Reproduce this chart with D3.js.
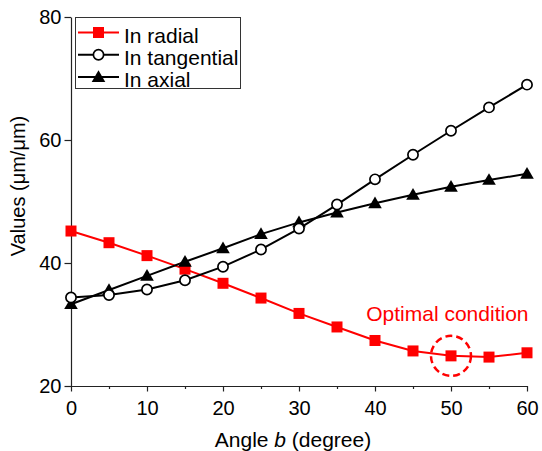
<!DOCTYPE html>
<html>
<head>
<meta charset="utf-8">
<script src="https://cdn.jsdelivr.net/npm/d3@7"></script>
<style>
body{margin:0;background:#fff;}
text{font-family:"Liberation Sans",Arial,sans-serif;}
</style>
</head>
<body>
<svg id="chart" width="542" height="451"></svg>
<script>
const angles = [0,5,10,15,20,25,30,35,40,45,50,55,60];
const radial = [45.2,43.3,41.2,39.0,36.7,34.3,31.8,29.6,27.4,25.7,24.9,24.7,25.4];
const tangential = [34.4,34.8,35.7,37.2,39.4,42.2,45.6,49.5,53.6,57.6,61.5,65.3,69.0];
const axial = [33.3,35.6,37.9,40.2,42.4,44.7,46.6,48.2,49.7,51.1,52.4,53.5,54.5];
const xTicks = [0,10,20,30,40,50,60];
const xMinorTicks = [5,15,25,35,45,55];
const yTicks = [20,40,60,80];
const seriesNames = ["In radial","In tangential","In axial"];
const optimal = {angle:50, value:24.9, label:"Optimal condition"};

const svg = d3.select("#chart");
const x = d3.scaleLinear().domain([0,60]).range([71,527]);
const y = d3.scaleLinear().domain([20,80]).range([386,17]);
const axisColor = "#222";
const FF = "Liberation Sans, Arial, sans-serif";

// x axis
const gx = svg.append("g").attr("transform","translate(0,386)");
gx.call(d3.axisBottom(x).tickValues(xMinorTicks).tickSize(3).tickFormat(""));
gx.call(g=>g.select(".domain").remove());
const gx2 = svg.append("g").attr("transform","translate(0,386)");
gx2.call(d3.axisBottom(x).tickValues(xTicks).tickSize(5.5).tickPadding(9).tickSizeOuter(0));
[gx,gx2].forEach(g=>{
  g.selectAll("line").attr("stroke",axisColor).attr("stroke-width",1.2);
  g.selectAll(".domain").attr("stroke",axisColor).attr("stroke-width",1.2);
  g.selectAll("text").attr("font-size",20).attr("fill","#000").attr("font-family",FF);
});

// y axis
const gy = svg.append("g").attr("transform","translate(71,0)");
gy.call(d3.axisLeft(y).tickValues(yTicks).tickSize(6.5).tickPadding(3).tickSizeOuter(0));
gy.selectAll("line").attr("stroke",axisColor).attr("stroke-width",1.2);
gy.select(".domain").attr("stroke",axisColor).attr("stroke-width",1.2);
gy.selectAll("text").attr("font-size",20).attr("fill","#000").attr("font-family",FF);

// axis titles
svg.append("text").attr("transform","translate(25,186) rotate(-90)")
  .attr("text-anchor","middle").attr("font-size",20).text("Values (μm/μm)");
const xt = svg.append("text").attr("x",293).attr("y",447).attr("text-anchor","middle").attr("font-size",21);
xt.append("tspan").text("Angle ");
xt.append("tspan").attr("font-style","italic").text("b");
xt.append("tspan").text(" (degree)");

const line = d3.line().x((d,i)=>x(angles[i])).y(d=>y(d));

const series = [
  {name:seriesNames[0], data:radial, color:"#ff0000", marker:"square"},
  {name:seriesNames[1], data:tangential, color:"#000", marker:"circle"},
  {name:seriesNames[2], data:axial, color:"#000", marker:"triangle"}
];

function drawMarker(g, type, cx, cy, color){
  if(type==="square"){
    g.append("rect").attr("x",cx-5.5).attr("y",cy-5.5).attr("width",11).attr("height",11).attr("fill",color);
  } else if(type==="circle"){
    g.append("circle").attr("cx",cx).attr("cy",cy).attr("r",5.1).attr("fill","#fff").attr("stroke","#000").attr("stroke-width",1.7);
  } else {
    const s=6.8;
    g.append("path").attr("d",`M${cx},${cy-s}L${cx+s},${cy+s*0.72}L${cx-s},${cy+s*0.72}Z`).attr("fill","#000");
  }
}

[series[0],series[2],series[1]].forEach(s=>{
  svg.append("path").datum(s.data).attr("d",line).attr("fill","none")
    .attr("stroke",s.color).attr("stroke-width",2);
});
[series[0],series[2],series[1]].forEach(s=>{
  const g = svg.append("g");
  s.data.forEach((v,i)=>drawMarker(g,s.marker,x(angles[i]),y(v),s.color));
});

// optimal annotation
svg.append("circle").attr("cx",x(optimal.angle)).attr("cy",y(optimal.value)).attr("r",20)
  .attr("fill","none").attr("stroke","#ff0000").attr("stroke-width",2.5).attr("stroke-dasharray","7,4");
svg.append("text").attr("x",528.5).attr("y",320.5).attr("text-anchor","end").attr("font-size",21)
  .attr("fill","#ff0000").text(optimal.label);

// legend
const lg = svg.append("g");
lg.append("rect").attr("x",75.5).attr("y",17.5).attr("width",165).attr("height",71)
  .attr("fill","#fff").attr("stroke","#333").attr("stroke-width",1);
series.forEach((s,i)=>{
  const cy = 32.5 + i*22.3;
  lg.append("line").attr("x1",78).attr("x2",119).attr("y1",cy).attr("y2",cy)
    .attr("stroke",s.color).attr("stroke-width",2);
  drawMarker(lg,s.marker,98.5,cy,s.color);
  lg.append("text").attr("x",124).attr("y",cy+10.2).attr("font-size",21).text(s.name);
});
</script>
</body>
</html>
